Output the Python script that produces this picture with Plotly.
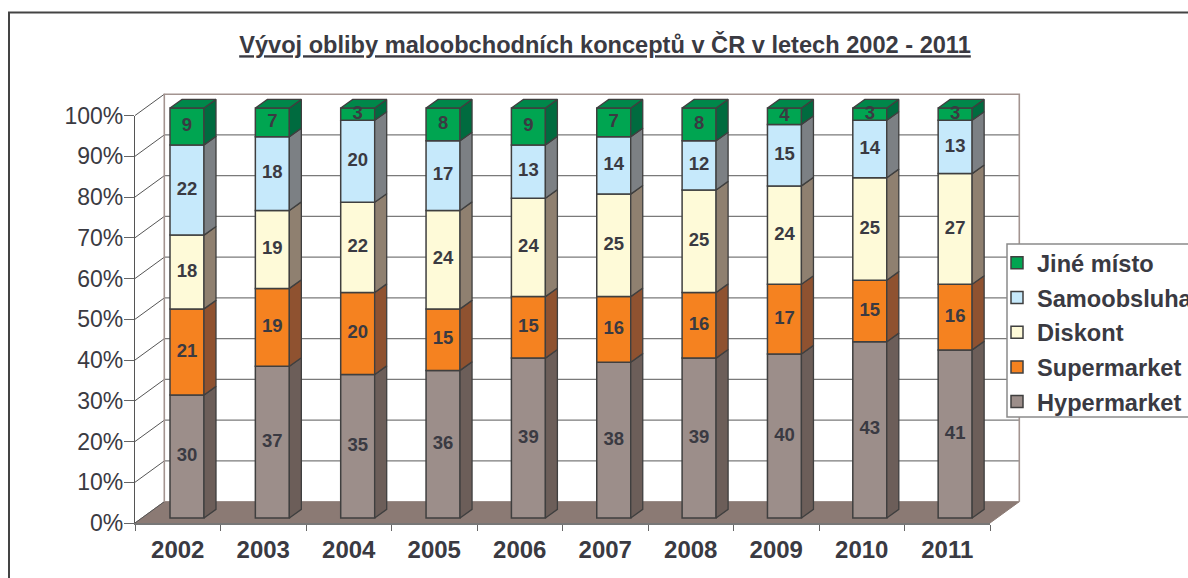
import plotly.graph_objects as go

W, H = 1188, 578
years = ["2002", "2003", "2004", "2005", "2006", "2007", "2008", "2009", "2010", "2011"]
hypermarket = [30, 37, 35, 36, 39, 38, 39, 40, 43, 41]
supermarket = [21, 19, 20, 15, 15, 16, 16, 17, 15, 16]
diskont = [18, 19, 22, 24, 24, 25, 25, 24, 25, 27]
samoobsluha = [22, 18, 20, 17, 13, 14, 12, 15, 14, 13]
jine_misto = [9, 7, 3, 8, 9, 7, 8, 4, 3, 3]
series_names = ["Hypermarket", "Supermarket", "Diskont", "Samoobsluha", "Jiné místo"]
series_values = [hypermarket, supermarket, diskont, samoobsluha, jine_misto]
legend_ranks = [5, 4, 3, 2, 1]
front_colors = ["#9C8E8A", "#F58220", "#FEFAD8", "#C6E9FB", "#00A551"]
side_colors = ["#6C5E59", "#8F5230", "#8F8070", "#7C8084", "#006B3F"]
top_color = "#00874A"
percent_ticks = [0, 10, 20, 30, 40, 50, 60, 70, 80, 90, 100]
percent_labels = ["0%", "10%", "20%", "30%", "40%", "50%", "60%", "70%", "80%", "90%", "100%"]
title_text = "<b><u>Vývoj obliby maloobchodních konceptů v ČR v letech 2002 - 2011</u></b>"

INK = "#3A3A42"
EDGE = "#3F3F3F"
FONT = "Liberation Sans, Arial, sans-serif"

# pixel calibration of the three planes
PX_L, PX_R, PY_0, PY_100 = 135, 990, 523, 115.5     # front axis plane
BX_0, BX_UNIT, BY_0, BY_UNIT = 187, 85.35, 518, 4.1  # bars plane
WALL_DX = 29.3 / 85.5
WALL_DY = 21.3 / ((PY_0 - PY_100) / 100)
BAR_W = 34 / BX_UNIT
BAR_DX = 12 / BX_UNIT
BAR_DY = 8.6 / BY_UNIT

fig = go.Figure()

# --- scene: floor, walls and gridlines (full-page axes x/y)
n = len(years)
floor_x = [0, n, n + WALL_DX, WALL_DX, 0]
floor_y = [0, 0, WALL_DY, WALL_DY, 0]
fig.add_trace(go.Scatter(x=floor_x, y=floor_y, mode="lines", fill="toself",
                         fillcolor="#8B7A74", line=dict(color="#8B7A74", width=1),
                         hoverinfo="skip", showlegend=False, xaxis="x", yaxis="y"))
back_x, back_y, side_x, side_y = [], [], [], []
for t in percent_ticks:
    side_x += [0, WALL_DX, None]
    side_y += [t, t + WALL_DY, None]
    if 0 < t < 100:
        back_x += [WALL_DX, n + WALL_DX, None]
        back_y += [t + WALL_DY, t + WALL_DY, None]
fig.add_trace(go.Scatter(x=back_x, y=back_y, mode="lines", line=dict(color="#7A7A7A", width=1.2),
                         hoverinfo="skip", showlegend=False, xaxis="x", yaxis="y"))
fig.add_trace(go.Scatter(x=side_x, y=side_y, mode="lines", line=dict(color="#555555", width=1),
                         hoverinfo="skip", showlegend=False, xaxis="x", yaxis="y"))
frame_x = [WALL_DX, WALL_DX, n + WALL_DX, n + WALL_DX]
frame_y = [WALL_DY, 100 + WALL_DY, 100 + WALL_DY, WALL_DY]
fig.add_trace(go.Scatter(x=frame_x, y=frame_y, mode="lines", line=dict(color="#A39490", width=1.6),
                         hoverinfo="skip", showlegend=False, xaxis="x", yaxis="y"))

# --- bars (full-page axes x2/y2)
idx = list(range(n))
bottoms = [0] * n
label_x, label_y, label_t = [], [], []
for name, vals, fc, sc, rank in zip(series_names, series_values, front_colors, side_colors, legend_ranks):
    fig.add_trace(go.Bar(x=idx, y=vals, base=bottoms, name=name, width=BAR_W, legendgroup=name,
                         legendrank=rank,
                         marker=dict(color=fc, line=dict(color=EDGE, width=1.5)),
                         hoverinfo="y+name", xaxis="x2", yaxis="y2"))
    px, py = [], []
    for i, (b, v) in enumerate(zip(bottoms, vals)):
        xr = i + BAR_W / 2
        px += [xr, xr + BAR_DX, xr + BAR_DX, xr, xr, None]
        py += [b, b + BAR_DY, b + v + BAR_DY, b + v, b, None]
        label_x.append(i)
        label_y.append(b + v / 2)
        label_t.append(str(v))
    fig.add_trace(go.Scatter(x=px, y=py, mode="lines", fill="toself", fillcolor=sc,
                             line=dict(color=EDGE, width=1.3), hoverinfo="skip",
                             showlegend=False, xaxis="x2", yaxis="y2"))
    bottoms = [b + v for b, v in zip(bottoms, vals)]

tx, ty = [], []
for i, t in enumerate(bottoms):
    xl, xr = i - BAR_W / 2, i + BAR_W / 2
    tx += [xl, xl + BAR_DX, xr + BAR_DX, xr, xl, None]
    ty += [t, t + BAR_DY, t + BAR_DY, t, t, None]
fig.add_trace(go.Scatter(x=tx, y=ty, mode="lines", fill="toself", fillcolor=top_color,
                         line=dict(color=EDGE, width=1.3), hoverinfo="skip",
                         showlegend=False, xaxis="x2", yaxis="y2"))
fig.add_trace(go.Scatter(x=label_x, y=label_y, text=label_t, mode="text",
                         textfont=dict(family=FONT, size=18.5, color=INK, weight="bold"),
                         textposition="middle center", hoverinfo="skip",
                         showlegend=False, xaxis="x2", yaxis="y2"))

# --- real axes with ticks (x3/y3)
fig.add_trace(go.Scatter(x=years, y=[None] * n, mode="markers", hoverinfo="skip",
                         showlegend=False, xaxis="x3", yaxis="y3"))

hidden = dict(visible=False, domain=[0, 1], fixedrange=True)
fig.update_layout(
    width=W, height=H, autosize=False,
    margin=dict(l=0, r=0, t=0, b=0, autoexpand=False),
    paper_bgcolor="white", plot_bgcolor="rgba(0,0,0,0)",
    barmode="overlay",
    title=dict(text=title_text, x=605 / W, xanchor="center", y=1 - 45 / H, yanchor="middle",
               font=dict(family=FONT, size=23.6, color=INK)),
    xaxis=dict(range=[-PX_L / 85.5, (W - PX_L) / 85.5], **hidden),
    yaxis=dict(range=[-(H - PY_0) * 100 / (PY_0 - PY_100), PY_0 * 100 / (PY_0 - PY_100)], **hidden),
    xaxis2=dict(range=[-BX_0 / BX_UNIT, (W - BX_0) / BX_UNIT], anchor="y2", **hidden),
    yaxis2=dict(range=[-(H - BY_0) / BY_UNIT, BY_0 / BY_UNIT], anchor="x2", **hidden),
    xaxis3=dict(domain=[PX_L / W, PX_R / W], type="category", range=[-0.5, n - 0.5], anchor="y3",
                categoryorder="array", categoryarray=years, tickson="boundaries",
                ticks="outside", ticklen=6, tickcolor="#666666", tickwidth=1,
                showline=True, linecolor="#777777", linewidth=1.5, showgrid=False, zeroline=False,
                tickfont=dict(family=FONT, size=24, color=INK, weight="bold"), ticklabelstandoff=4),
    yaxis3=dict(domain=[(H - PY_0) / H, (H - PY_100) / H], range=[0, 100], anchor="x3",
                tickmode="array", tickvals=percent_ticks, ticktext=percent_labels,
                ticks="outside", ticklen=10, ticklabelstandoff=-4,
                tickcolor="#666666", tickwidth=1, showline=True, linecolor="#555555", linewidth=1.2,
                showgrid=False, zeroline=False,
                tickfont=dict(family=FONT, size=23, color=INK)),
    legend=dict(x=997 / W, xanchor="left", y=1 - 241 / H, yanchor="top", traceorder="grouped",
                font=dict(family=FONT, size=23.6, color=INK, weight="bold"), tracegroupgap=1,
                bgcolor="rgba(0,0,0,0)", borderwidth=0, itemclick=False, itemdoubleclick=False),
    shapes=[dict(type="rect", xref="paper", yref="paper", x0=9 / W, x1=1.05, y0=-0.05, y1=1 - 12.5 / H,
                 line=dict(color="#444444", width=2), fillcolor="rgba(0,0,0,0)", layer="below"),
            dict(type="rect", xref="paper", yref="paper", x0=1007 / W, x1=1.05, y0=1 - 417 / H, y1=1 - 244 / H,
                 line=dict(color="#8A8A8A", width=1.5), fillcolor="white", layer="above")],
)
fig.write_html("out.html", config=dict(displayModeBar=False),
               post_script="document.body.style.margin='0';document.body.style.overflow='hidden';")
